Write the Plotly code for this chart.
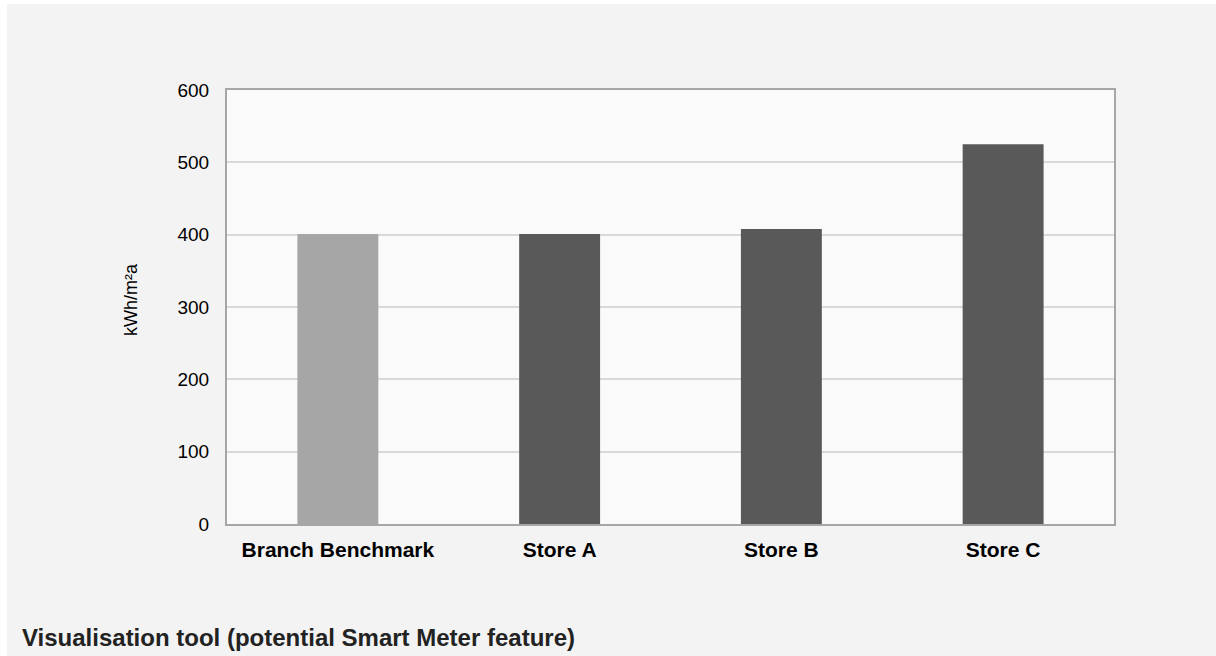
import plotly.graph_objects as go

# Energy intensity per site
categories = ["Branch Benchmark", "Store A", "Store B", "Store C"]
values = [401, 401, 408, 525]
bar_colors = ["#a6a6a6", "#595959", "#595959", "#595959"]
y_ticks = [0, 100, 200, 300, 400, 500, 600]

W, H = 1216, 656
L, R, T, B = 227, 102, 90, 132
pw, ph = W - L - R, H - T - B


def px_x(x):
    return (x - L) / pw


def px_y(y):
    return (H - B - y) / ph


fig = go.Figure(
    go.Bar(
        x=categories,
        y=values,
        marker=dict(color=bar_colors, line=dict(width=0)),
        width=0.365,
    )
)

fig.update_layout(
    width=W,
    height=H,
    margin=dict(l=L, r=R, t=T, b=B),
    paper_bgcolor="#f3f3f3",
    plot_bgcolor="#fafafa",
    showlegend=False,
    font=dict(family="Liberation Sans, Arial, sans-serif", color="#000000"),
    xaxis=dict(
        showline=True,
        linecolor="#a6a6a6",
        linewidth=2,
        mirror=True,
        showgrid=False,
        tickfont=dict(size=21, weight="bold", color="#000000"),
        ticks="",
        ticklabelstandoff=6,
    ),
    yaxis=dict(
        range=[0, 600],
        tickvals=y_ticks,
        showline=True,
        linecolor="#a6a6a6",
        linewidth=2,
        mirror=True,
        showgrid=True,
        gridcolor="#d9d9d9",
        gridwidth=1.5,
        zeroline=False,
        ticks="",
        tickfont=dict(size=19, color="#000000"),
        ticklabelstandoff=12,
    ),
    shapes=[
        # thin white frame along the top and left edges of the page
        dict(type="rect", xref="paper", yref="paper", layer="above",
             x0=px_x(0), x1=px_x(W), y0=px_y(0), y1=px_y(4),
             fillcolor="#ffffff", line=dict(width=0)),
        dict(type="rect", xref="paper", yref="paper", layer="above",
             x0=px_x(0), x1=px_x(7), y0=px_y(0), y1=px_y(H),
             fillcolor="#ffffff", line=dict(width=0)),
    ],
    annotations=[
        dict(text="kWh/m²a", textangle=-90, xref="paper", yref="paper",
             x=px_x(131), y=px_y(300), xanchor="center", yanchor="middle",
             showarrow=False, font=dict(size=18, color="#000000")),
        dict(text="<b>Visualisation tool (potential Smart Meter feature)</b>",
             xref="paper", yref="paper", x=px_x(20), y=px_y(637),
             xanchor="left", yanchor="middle", showarrow=False,
             font=dict(size=24, color="#222222")),
    ],
)

fig.write_html("out.html")
